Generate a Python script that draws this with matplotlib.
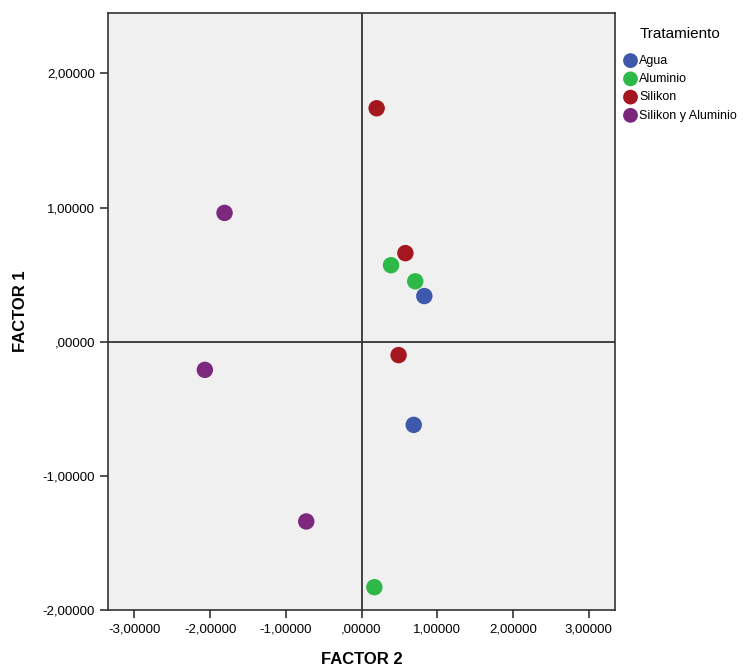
import numpy as np
from matplotlib import pyplot as plt

plt.rcParams['font.family'] = ['Liberation Sans', 'DejaVu Sans']

groups = ['Agua', 'Aluminio', 'Silikon', 'Silikon y Aluminio']
colors = ['#3E58AC', '#2EB848', '#A5171E', '#7C287D']

agua_x = [0.83, 0.69]
agua_y = [0.34, -0.62]
alum_x = [0.39, 0.71, 0.17]
alum_y = [0.57, 0.45, -1.83]
sil_x = [0.20, 0.58, 0.49]
sil_y = [1.74, 0.66, -0.10]
silal_x = [-1.81, -2.07, -0.73]
silal_y = [0.96, -0.21, -1.34]

xs = [agua_x, alum_x, sil_x, silal_x]
ys = [agua_y, alum_y, sil_y, silal_y]

xticks = [-3, -2, -1, 0, 1, 2, 3]
yticks = [-2, -1, 0, 1, 2]


def fmt(v):
  s = '{:.5f}'.format(abs(v)).replace('.', ',')
  if s.startswith('0'):
    s = s[1:]
  return ('-' if v < 0 else '') + s


fig = plt.figure(figsize=(7.54, 6.70), dpi=100)
ax = fig.add_axes([108 / 754, 60 / 670, 507 / 754, 597 / 670])
ax.set_facecolor('#F0F0F0')

ax.axhline(0, color='#333333', lw=1.3, zorder=1)
ax.axvline(0, color='#333333', lw=1.3, zorder=1)

for name, c, x, y in zip(groups, colors, xs, ys):
  ax.scatter(x, y, s=140, color=c, label=name, zorder=3, edgecolors='none')

ax.set_xlim(-3.35, 3.35)
ax.set_ylim(-2.0, 2.45)
ax.set_xticks(xticks)
ax.set_yticks(yticks)
ax.set_xticklabels([fmt(v) for v in xticks])
ax.set_yticklabels([fmt(v) for v in yticks])
ax.tick_params(labelsize=9.5, length=6, color='#333333', width=1.2)
for s in ax.spines.values():
  s.set_color('#333333')
  s.set_linewidth(1.2)

ax.set_xlabel('FACTOR 2', fontsize=12, fontweight='bold', labelpad=12)
ax.set_ylabel('FACTOR 1', fontsize=12, fontweight='bold', labelpad=10)

leg = fig.legend(loc='upper left', bbox_to_anchor=(618 / 754, 1 - 22 / 670),
                 frameon=False, title='Tratamiento', fontsize=9,
                 title_fontsize=11, handletextpad=0.1, labelspacing=0.5,
                 handlelength=1.2, borderaxespad=0, markerscale=0.9)
leg._legend_box.sep = 10

fig.savefig('out.png', dpi=100)
